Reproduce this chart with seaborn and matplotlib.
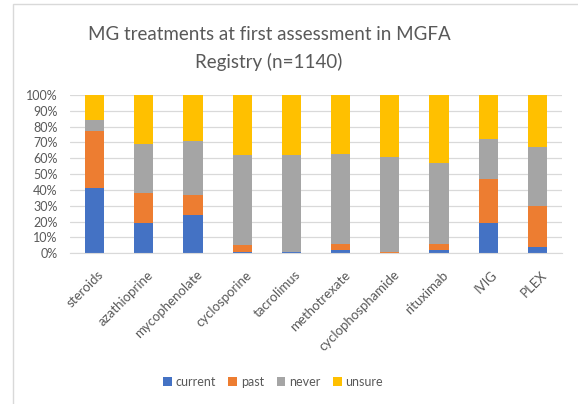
import matplotlib
matplotlib.use("Agg")
import matplotlib.pyplot as plt
import matplotlib.transforms as mtransforms
from matplotlib.patches import Rectangle
from matplotlib.ticker import PercentFormatter, MultipleLocator
import seaborn as sns
import pandas as pd
import numpy as np

# Treatment status shares (% of registry patients)
treatments = ["steroids", "azathioprine", "mycophenolate", "cyclosporine", "tacrolimus",
              "methotrexate", "cyclophosphamide", "rituximab", "IVIG", "PLEX"]
current = [41, 19, 24, 1, 1, 2, 0, 2, 19, 4]
past = [36, 19, 13, 4, 0, 4, 1, 4, 28, 26]
never = [7, 31, 34, 57, 61, 57, 60, 51, 25, 37]
unsure = [16, 31, 29, 38, 38, 37, 39, 43, 28, 33]

series = ["current", "past", "never", "unsure"]
colors = {"current": "#4472C4", "past": "#ED7D31", "never": "#A5A5A5", "unsure": "#FFC000"}

df = pd.DataFrame({"treatment": treatments, "current": current, "past": past,
                   "never": never, "unsure": unsure})

sns.set_style("white")
plt.rcParams["font.family"] = ["Lato", "DejaVu Sans"]
text_gray = "#595959"

fig = plt.figure(figsize=(5.78, 4.04), dpi=100)
fig.patches.append(Rectangle((13 / 578, -0.05), 1.0, 1 - 4 / 404 + 0.05,
                             transform=fig.transFigure, fill=False,
                             edgecolor="#D9D9D9", linewidth=1.0))

ax = fig.add_axes([70 / 578, 1 - 253.3 / 404, (562 - 70) / 578, (253.3 - 95) / 404])

bottom = np.zeros(len(df))
for s in series:
    sns.barplot(data=df, x="treatment", y=s, bottom=bottom, color=colors[s],
                width=0.39, ax=ax, label=s, saturation=1, linewidth=0)
    bottom = bottom + df[s].to_numpy()

ax.set_ylim(0, 100)
ax.set_xlim(-0.5, len(treatments) - 0.5)
ax.yaxis.set_major_locator(MultipleLocator(10))
ax.yaxis.set_major_formatter(PercentFormatter(decimals=0))
ax.grid(axis="y", color="#D9D9D9", linewidth=0.9)
ax.set_axisbelow(True)
for side in ["top", "right", "left"]:
    ax.spines[side].set_visible(False)
ax.spines["bottom"].set_color("#D9D9D9")
ax.set_xlabel("")
ax.set_ylabel("")
ax.tick_params(axis="both", length=0, colors=text_gray)
ax.tick_params(axis="y", pad=9, labelsize=9)
ax.tick_params(axis="x", pad=11, labelsize=9.5)
shift = mtransforms.ScaledTranslation(3 / 100, 0, fig.dpi_scale_trans)
for lab in ax.get_xticklabels():
    lab.set_rotation(45)
    lab.set_ha("right")
    lab.set_rotation_mode("anchor")
    lab.set_transform(lab.get_transform() + shift)

fig.text(269 / 578, 1 - 35 / 404, "MG treatments at first assessment in MGFA",
         ha="center", va="center", fontsize=13.5, color=text_gray)
fig.text(269 / 578, 1 - 62 / 404, "Registry (n=1140)",
         ha="center", va="center", fontsize=13.5, color=text_gray)

handles, labels = ax.get_legend_handles_labels()
fig.legend(handles, labels, loc="center", bbox_to_anchor=(273 / 578, 1 - 382 / 404),
           ncol=4, frameon=False, fontsize=9, labelcolor=text_gray,
           handlelength=0.7, handleheight=0.7, handletextpad=0.3, columnspacing=1.0)
if ax.get_legend():
    ax.get_legend().remove()

fig.savefig("out.png", dpi=100)
